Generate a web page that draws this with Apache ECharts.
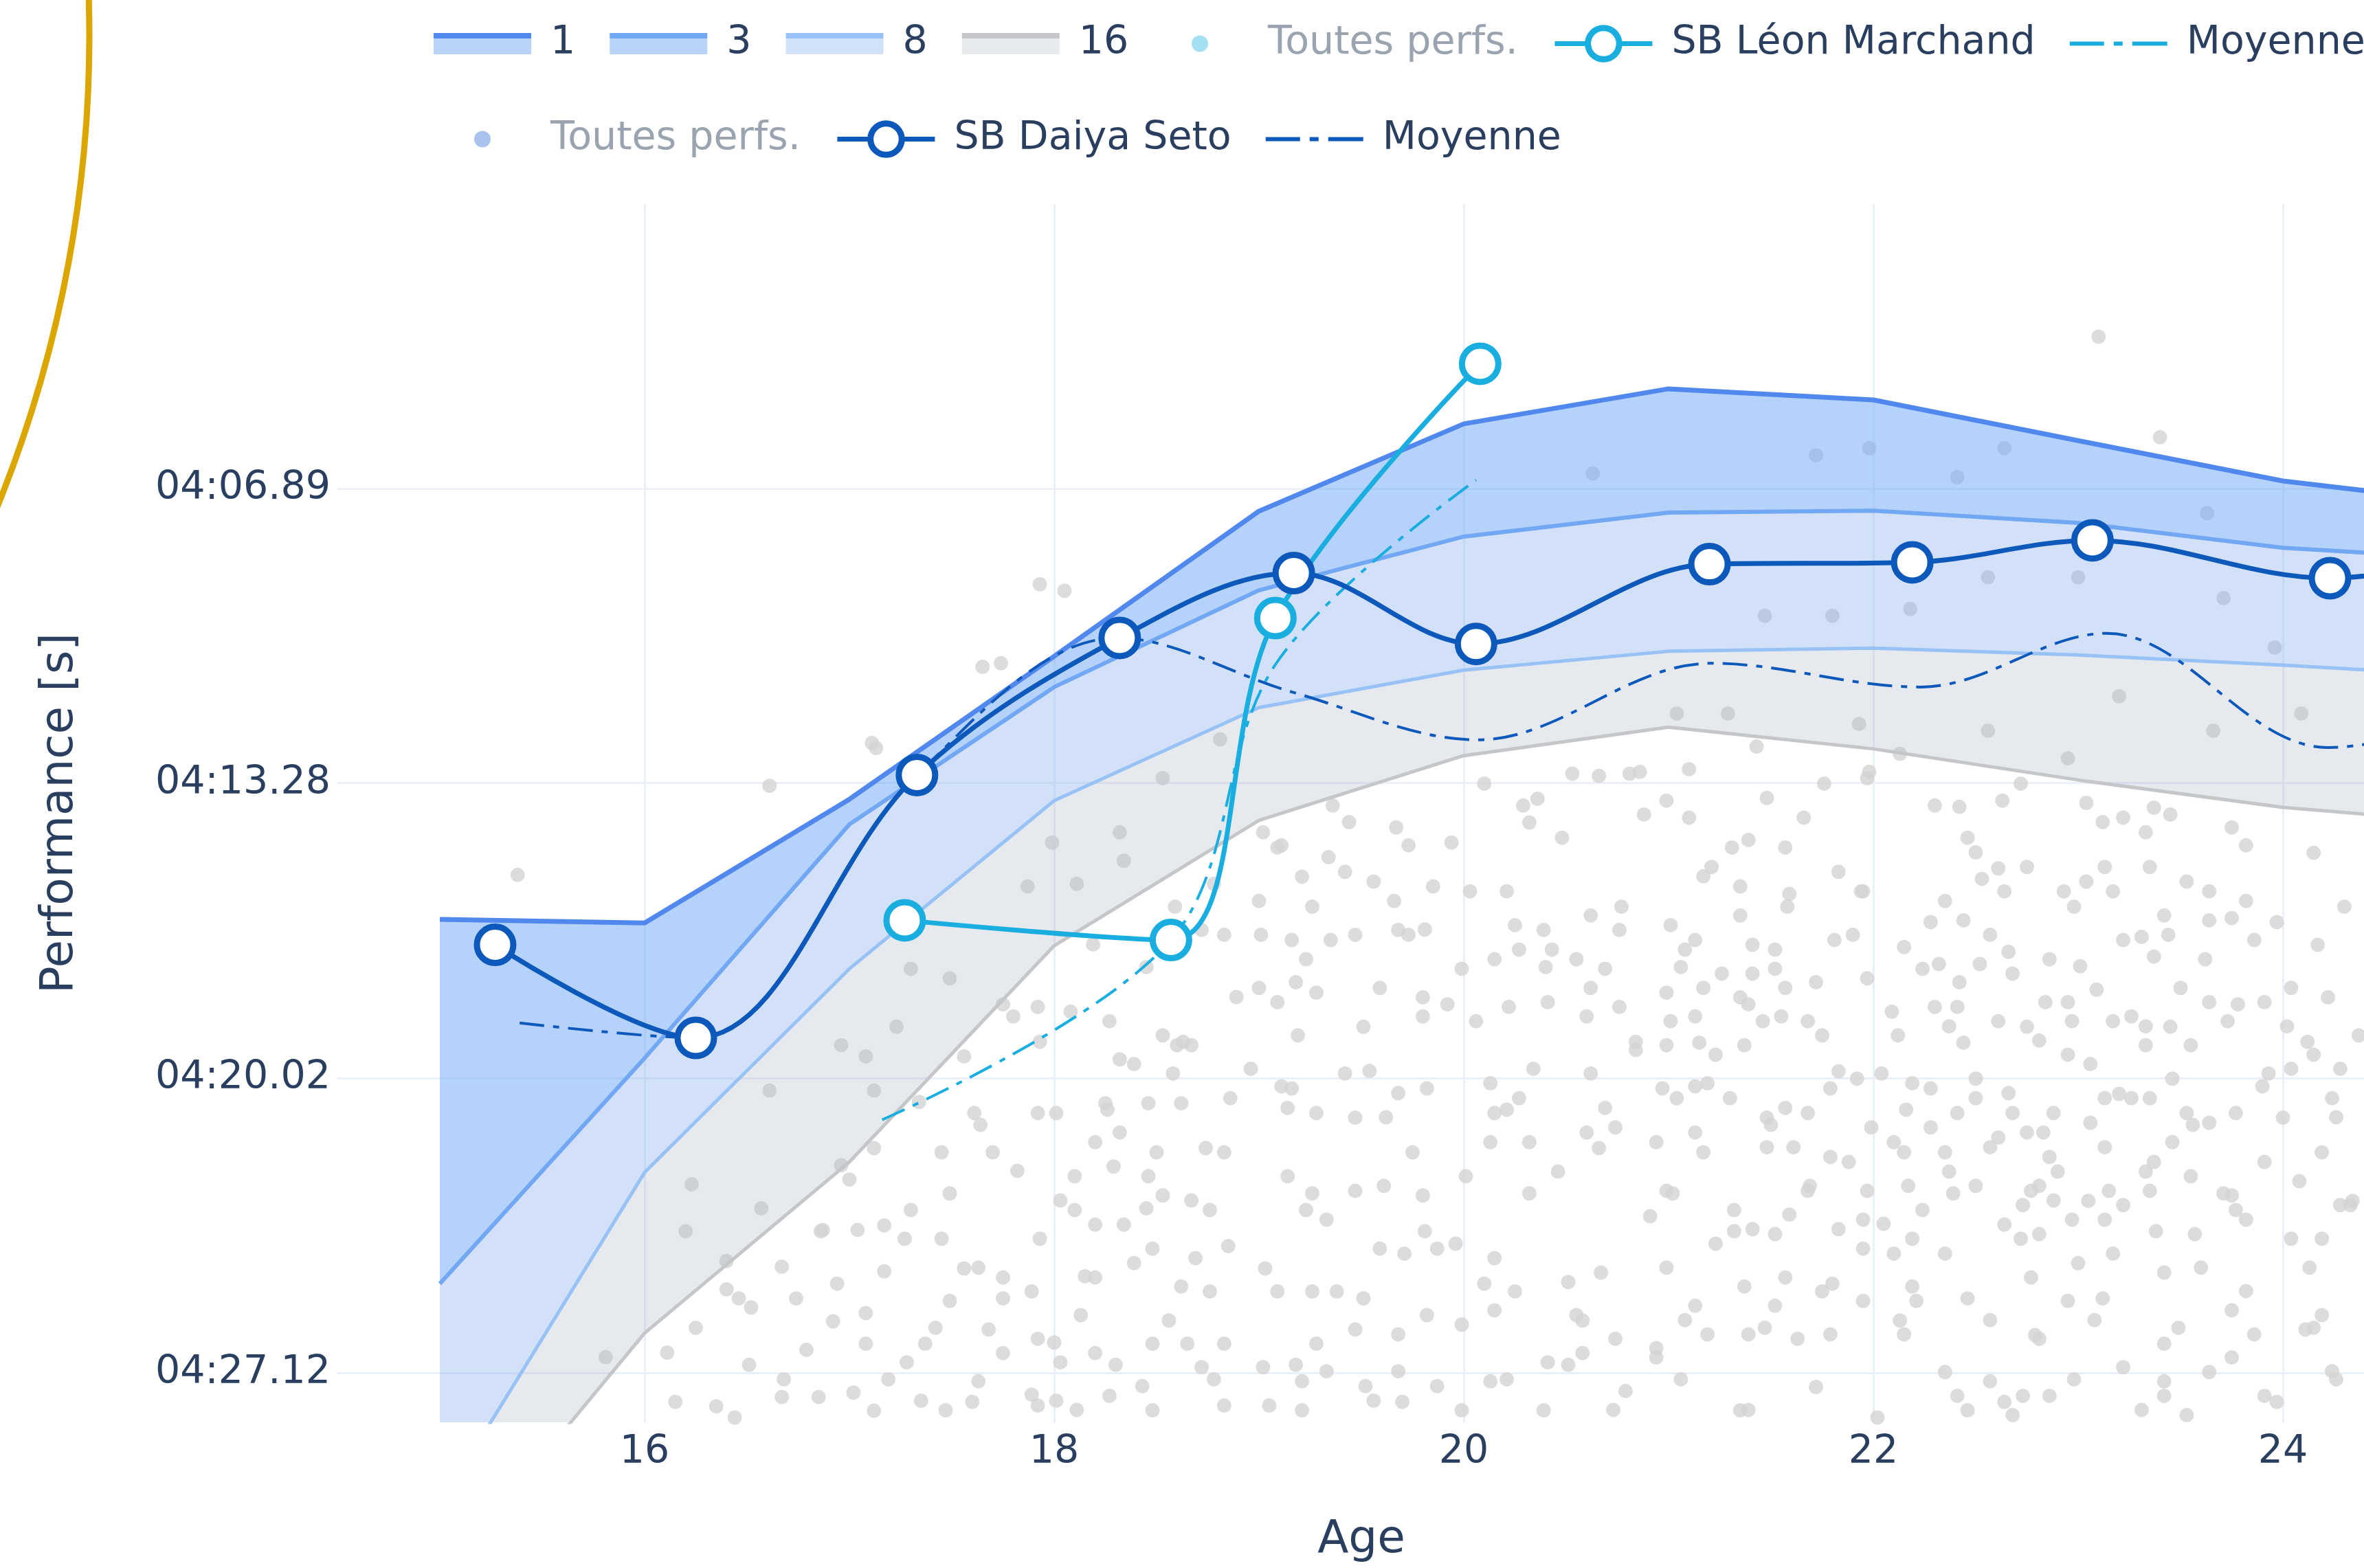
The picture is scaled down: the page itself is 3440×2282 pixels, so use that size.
<!DOCTYPE html>
<html>
<head>
<meta charset="utf-8">
<title>400 4N – Léon Marchand / Daiya Seto</title>
<script src="https://cdn.jsdelivr.net/npm/echarts@6/dist/echarts.min.js"></script>
<style>
  html, body { margin: 0; padding: 0; background: #ffffff; }
  #chart { width: 3440px; height: 2282px; }
</style>
</head>
<body>
<div id="chart"></div>
<script>
// 400 m individual medley: times in seconds, plotted on a speed scale (m/s)
const DIST = 400;

// Ranking envelopes by age (time of the 1st, 3rd, 8th and 16th best swimmer)
const AGES   = [15, 16, 17, 18, 19, 20, 21, 22, 23, 24, 25];
const RANK1  = [256.35, 256.43, 253.64, 250.49, 247.37, 245.53, 244.80, 245.03, 245.88, 246.73, 247.24];
const RANK3  = [264.93, 259.55, 254.20, 251.16, 249.06, 247.91, 247.40, 247.36, 247.62, 248.15, 248.41];
const RANK8  = [270.43, 262.25, 257.48, 253.67, 251.61, 250.79, 250.38, 250.31, 250.46, 250.68, 250.94];
const RANK16 = [272.36, 266.14, 262.00, 256.95, 254.11, 252.67, 252.04, 252.52, 253.21, 253.82, 254.20];

// Season bests
const MARCHAND_AGES = [17.27, 18.57, 19.08, 20.08];
const MARCHAND_SB   = [256.37, 256.82, 249.66, 244.28];
const SETO_AGES = [15.27, 16.25, 17.33, 18.32, 19.17, 20.06, 21.20, 22.19, 23.07, 24.23, 25.24];
const SETO_SB   = [256.93, 259.08, 253.10, 250.09, 248.69, 250.22, 248.50, 248.46, 247.99, 248.80, 247.95];

// Season averages
const MARCHAND_AVG_AGES = [17.16, 18.57, 19.08, 20.06];
const MARCHAND_AVG      = [261.00, 256.82, 250.67, 246.71];
const SETO_AVG_AGES = [15.39, 16.25, 17.33, 18.31, 19.17, 20.07, 21.21, 22.23, 23.14, 24.22, 25.20];
const SETO_AVG      = [258.73, 259.08, 253.10, 250.09, 251.28, 252.32, 250.64, 251.16, 249.99, 252.49, 251.50];

// Axis ticks
const AGE_TICKS  = [16, 18, 20, 22, 24];
const TIME_TICKS = [246.89, 253.28, 260.02, 267.12];

// All performances of the field: [age, time in s]
const ALL_PERFS = [
  [19.36,253.78],[19.67,254.27],[19.94,254.61],[20.48,254.50],[20.29,253.78],[20.32,254.16],[20.53,253.07],[20.81,253.07],
  [19.02,254.38],[19.09,254.72],[19.21,255.38],[19.34,254.94],[19.42,255.27],[19.56,255.49],[19.66,255.93],[19.85,255.60],
  [20.03,255.71],[20.25,256.48],[20.39,256.59],[20.62,256.26],[20.76,256.59],[19.00,255.93],[19.01,256.70],[19.16,256.82],
  [19.23,257.26],[19.35,256.82],[19.47,256.70],[19.68,256.59],[19.73,256.70],[19.99,257.48],[20.15,257.26],[20.27,257.04],
  [20.43,257.04],[20.55,257.26],[20.69,257.48],[20.62,257.92],[20.76,258.36],[18.72,256.59],[18.83,256.70],[19.00,257.92],
  [19.09,258.25],[19.28,258.03],[19.19,259.02],[19.59,257.92],[19.80,258.14],[19.80,258.58],[20.06,258.69],[20.22,258.36],
  [20.41,258.25],[20.60,258.58],[20.84,259.36],[17.80,258.58],[17.92,258.36],[18.27,258.69],[18.39,259.69],[18.32,259.58],
  [18.53,259.02],[18.60,259.25],[18.67,259.25],[18.58,259.91],[18.96,259.80],[19.42,259.91],[19.54,259.85],[19.16,260.26],
  [19.14,260.72],[18.86,260.49],[18.62,260.61],[18.46,260.61],[18.25,260.61],[18.01,260.84],[17.92,260.84],[17.61,260.84],
  [17.45,261.77],[17.70,261.77],[18.20,261.53],[18.32,261.30],[18.50,261.77],[18.83,261.77],[19.28,260.84],[19.47,260.95],
  [19.68,260.37],[19.82,260.26],[19.75,261.77],[20.13,260.14],[20.15,260.84],[20.27,260.49],[20.34,259.80],[20.62,259.91],
  [20.69,260.72],[20.60,261.30],[20.74,261.18],[20.46,262.23],[20.32,261.53],[20.01,262.34],[20.13,261.53],[19.80,262.80],
  [19.61,262.57],[19.47,262.69],[19.23,263.15],[19.33,263.38],[19.14,262.34],[18.76,263.15],[18.67,262.92],[18.53,262.80],
  [18.46,262.34],[18.29,262.11],[18.10,262.34],[18.03,262.92],[18.10,263.15],[18.20,263.50],[18.34,263.50],[18.48,264.08],
  [18.69,264.31],[18.62,265.00],[18.76,265.12],[18.39,264.43],[18.20,264.78],[18.13,265.70],[17.89,265.12],[17.75,264.78],
  [17.63,264.54],[17.49,265.35],[17.45,263.84],[17.30,263.15],[17.37,266.40],[17.28,266.86],[17.68,266.05],[17.75,266.63],
  [17.92,266.28],[18.03,266.86],[18.20,266.63],[18.48,266.40],[18.65,266.40],[18.83,266.40],[19.09,265.12],[19.26,265.12],
  [19.38,265.12],[19.47,266.05],[19.52,267.45],[19.28,266.40],[19.33,267.08],[19.21,267.33],[19.02,266.98],[18.72,266.98],
  [18.43,267.45],[18.27,267.69],[18.01,267.81],[17.92,267.93],[17.63,267.33],[17.47,268.05],[17.35,267.81],[19.59,264.08],
  [19.71,264.20],[19.87,264.08],[19.96,263.96],[20.15,264.31],[20.25,265.12],[20.51,264.89],[20.67,264.66],[20.55,265.70],
  [20.74,266.28],[20.15,265.58],[19.99,265.93],[19.82,265.70],[19.68,266.17],[20.41,266.86],[20.58,266.63],[20.79,267.57],
  [20.13,267.33],[19.87,267.45],[19.68,267.08],[19.56,267.81],[19.05,267.93],[18.83,267.93],[18.48,268.05],[19.21,268.05],
  [19.99,268.05],[20.39,268.05],[17.99,254.61],[18.32,254.38],[17.87,255.60],[17.49,257.70],[17.30,257.48],[18.53,253.17],
  [18.81,252.31],
  [20.99,253.67],[21.10,254.05],[21.48,253.61],[21.66,254.05],[21.97,253.17],[22.30,253.78],[22.63,253.67],[23.04,253.72],
  [23.22,254.05],[23.33,254.38],[23.75,254.27],[23.37,253.83],[21.21,255.16],[21.31,254.72],[21.39,254.55],[21.57,254.72],
  [21.83,255.27],[21.95,255.71],[21.35,255.60],[21.59,255.77],[22.46,254.50],[22.50,254.83],[22.75,255.16],[22.35,255.93],
  [22.53,255.43],[22.64,255.71],[22.93,255.71],[23.04,255.49],[23.13,255.16],[23.17,255.71],[23.35,255.16],[23.53,255.49],
  [23.82,255.93],[23.64,256.37],[23.75,256.32],[21.01,256.48],[21.08,257.04],[21.13,256.82],[21.35,256.26],[21.41,256.93],
  [21.52,257.04],[21.52,257.48],[21.81,256.82],[21.90,256.70],[21.97,257.70],[22.15,256.98],[22.24,257.48],[22.32,257.37],
  [22.44,256.37],[22.57,256.70],[22.52,257.37],[22.66,257.09],[22.68,257.59],[22.86,257.26],[23.01,257.42],[23.22,256.82],
  [23.42,256.26],[23.44,256.70],[23.37,257.20],[23.50,257.92],[23.62,257.26],[24.17,256.93],[23.86,256.82],[20.99,258.03],
  [21.17,257.92],[21.26,257.59],[21.35,258.14],[21.41,257.59],[21.57,257.92],[21.01,258.69],[21.13,258.58],[21.46,258.69],
  [21.55,258.58],[21.68,258.69],[21.75,259.02],[21.37,259.25],[21.23,259.47],[20.99,259.25],[21.15,259.19],[22.12,259.02],
  [22.30,258.36],[22.41,258.36],[22.37,258.81],[22.44,259.19],[22.61,258.69],[22.84,258.25],[22.95,258.25],[22.97,258.69],
  [22.81,259.14],[22.95,259.47],[23.06,259.69],[23.17,258.69],[23.26,258.58],[23.33,258.81],[23.33,259.25],[23.55,259.25],
  [23.64,258.25],[23.73,258.69],[23.91,258.25],[24.04,257.92],[24.02,258.81],[24.22,258.14],[24.15,259.47],[24.28,259.80],
  [24.37,259.02],[20.97,260.26],[21.04,260.49],[21.19,260.14],[21.30,260.49],[21.48,260.95],[21.57,260.72],[21.68,260.84],
  [21.79,260.26],[21.92,260.03],[22.04,259.91],[22.19,260.14],[22.28,260.26],[22.41,260.84],[22.50,260.49],[22.66,260.37],
  [22.68,260.84],[22.88,260.84],[23.13,260.49],[23.26,260.49],[23.35,260.49],[23.46,260.03],[23.53,260.84],[23.64,261.07],
  [23.77,260.84],[24.00,260.95],[23.93,259.91],[24.04,259.80],[24.24,260.49],[23.06,261.07],[20.94,261.53],[21.13,261.30],
  [21.17,261.77],[21.48,261.65],[21.61,261.65],[21.79,261.88],[21.88,262.00],[21.97,262.69],[21.99,261.18],[22.10,261.53],
  [22.15,261.77],[22.28,261.18],[22.35,261.77],[22.37,262.23],[22.57,261.65],[22.61,261.42],[22.75,261.30],[22.86,261.88],
  [22.90,262.23],[22.81,262.57],[23.13,261.65],[23.15,262.69],[23.33,262.23],[23.37,262.00],[23.46,261.53],[23.55,262.34],
  [23.75,262.80],[23.91,262.00],[24.08,262.46],[24.19,261.77],[24.28,263.03],[21.68,262.69],[20.99,262.69],[22.17,262.57],
  [22.50,262.57],[22.77,262.69],[21.32,263.15],[21.23,263.96],[21.41,263.61],[21.59,263.26],[21.52,263.73],[21.83,263.61],
  [21.95,263.38],[21.95,264.08],[22.10,264.20],[22.19,263.84],[22.24,263.15],[22.35,264.20],[22.64,263.50],[22.73,263.03],
  [22.81,263.73],[22.88,262.92],[22.97,263.38],[23.13,263.38],[23.22,263.03],[23.35,262.69],[23.57,263.73],[23.77,263.15],
  [23.82,263.38],[23.60,264.54],[23.42,264.66],[23.17,264.20],[23.00,264.43],[22.77,264.78],[24.19,263.84],[24.13,264.54],
  [24.33,263.03],[20.99,264.54],[21.37,265.00],[21.57,264.78],[21.52,265.47],[21.75,265.12],[21.95,265.35],[22.19,265.00],
  [22.21,265.35],[22.15,266.17],[22.57,265.82],[22.81,266.28],[22.95,265.35],[23.08,265.82],[23.42,266.40],[23.75,265.58],
  [23.86,266.17],[24.11,266.05],[24.19,265.70],[21.08,265.82],[21.19,266.17],[21.39,266.17],[21.63,266.28],[21.79,266.17],
  [20.94,266.51],[20.94,266.74],[23.22,266.98],[23.75,266.74],[23.42,267.33],[24.24,267.08],[22.57,267.33],[22.41,267.69],
  [22.73,267.69],[22.86,267.69],[23.42,267.69],[23.91,267.69],[21.35,268.05],[22.46,268.05],[22.68,268.17],[23.53,268.17],
  [16.96,262.08],[17.00,262.42],[17.17,263.52],[17.04,263.63],[16.87,263.63],[16.67,264.52],[16.46,265.29],[16.40,265.07],
  [16.52,265.51],[16.92,265.85],[17.08,266.40],[17.17,264.63],[17.02,267.61],[16.85,267.72],[16.67,267.72],[16.35,267.95],
  [16.11,266.62],[17.12,268.06],[16.96,259.25],[17.12,260.31],[16.61,260.31],[16.23,262.53],[15.81,266.73],[15.38,255.34],
  [17.11,252.39],[16.61,253.34],
  [23.10,243.72],[20.63,246.57],[21.72,246.19],[21.98,246.04],[22.64,246.04],[23.40,245.81],[23.63,247.41],[22.41,246.65],
  [21.47,249.61],[21.80,249.61],[22.18,249.46],[22.56,248.78],[23.00,248.78],[23.71,249.23],[23.96,250.30],[23.20,251.36],
  [21.04,251.74],[21.29,251.74],[21.93,251.97],[22.56,252.12],[22.95,252.73],[23.66,252.12],[24.09,251.74],[20.86,253.03],
  [21.98,253.03],[17.93,248.93],[18.05,249.07],[17.65,250.72],[17.74,250.64],[17.13,252.50],
  [16.20,263.66],[16.40,264.38],[16.57,263.11],[16.74,265.29],[16.86,263.66],[16.25,266.01],[16.51,266.92],[16.79,266.55],
  [16.94,264.93],[16.15,267.84],[16.44,268.23],[16.68,267.28],
  [17.08,259.51],[17.23,258.82],[17.56,259.51],[17.75,258.30],[17.93,259.17],[17.34,260.58],[17.64,261.12],[17.12,261.67],
  [17.49,262.75],[17.82,262.21],[17.27,263.84],[17.56,264.56],[17.93,263.84],[17.08,265.65],[17.42,266.01],[17.75,265.29],
  [18.00,266.37],[17.19,267.28],[17.60,267.84],[17.89,267.66],
  [18.11,255.54],[18.34,255.02],[18.59,256.06],[18.78,255.54],[18.19,256.92],[18.45,257.44],[18.89,258.13],[18.08,258.47],
  [18.63,259.17],[18.26,260.76],[18.74,261.67],[18.45,263.11],[18.15,264.75],[18.85,264.02],[18.56,265.83],[18.30,266.92],
  [18.78,267.28],[18.11,268.04],
  [19.11,254.67],[19.44,254.15],[19.73,254.67],[20.10,253.29],[20.36,253.63],[20.66,253.12],[20.88,253.98],[19.26,256.06],
  [19.81,256.58],[20.21,255.71],[20.77,256.06],[19.18,257.79],[19.51,258.82],[19.92,258.30],[20.40,257.44],[20.84,259.17],
  [19.11,260.21],[19.62,260.94],[20.21,260.76],[20.66,261.67],[19.26,262.75],[19.81,263.66],[20.32,262.75],[20.91,263.30],
  [19.03,264.56],[19.51,265.29],[20.10,264.93],[20.58,265.83],[19.18,266.92],[19.70,267.84],[20.21,267.28],[20.73,268.04],
  [20.51,266.92],
  [21.10,252.97],[21.43,252.47],[21.76,253.29],[22.13,252.63],[22.42,253.81],[22.72,253.29],[23.12,254.15],[23.45,253.98],
  [23.82,254.67],[24.15,254.84],[21.17,255.37],[21.58,256.06],[21.94,255.71],[22.28,256.41],[22.61,255.19],[22.98,256.06],
  [23.31,256.75],[23.64,255.71],[23.97,256.41],[24.30,256.06],[21.06,257.44],[21.39,258.30],[21.72,257.79],[22.09,258.47],
  [22.42,257.79],[22.75,258.82],[23.09,257.96],[23.45,258.82],[23.78,258.30],[24.12,259.17],[21.13,260.21],[21.50,261.12],
  [21.83,259.86],[22.16,260.76],[22.50,260.03],[22.83,261.30],[23.20,260.39],[23.56,261.12],[23.90,260.21],[24.26,260.94],
  [21.02,262.75],[21.32,263.66],[21.69,262.57],[22.05,263.48],[22.39,262.75],[22.72,263.84],[23.05,262.93],[23.38,263.66],
  [23.71,262.75],[24.04,263.84],[24.34,262.93],[21.13,265.47],[21.47,266.01],[21.80,264.93],[22.13,265.83],[22.46,265.29],
  [22.79,266.19],[23.12,265.29],[23.49,266.01],[23.82,265.11],[24.15,266.01],[21.06,267.28],[21.39,268.04],[21.72,267.47],
  [22.02,268.23],[22.35,267.10],[22.64,267.84],[22.98,267.28],[23.31,268.04],[23.64,267.10],[23.97,267.84],[24.26,267.28]
];

// ---- styling ----
const FONT = 'DejaVu Sans';
const INK = '#2a3f5f';
const FADED = '#9aa3b0';
const LEON = '#1aaee0';
const SETO = '#0c58bb';
const BAND_LINE = ['#5088ee', '#72a8f3', '#98c2f5', '#c4c6ca'];
const BAND_FILL = ['rgba(108,165,245,0.50)', 'rgba(129,172,232,0.36)', 'rgba(172,182,198,0.30)'];
const BAND_ICON_FILL = ['#b7d3fa', '#b7d3fa', '#d1e1f7', '#e6e9ee'];

// shaded areas between consecutive ranking envelopes
const BANDS = [
  { upper: RANK1, lower: RANK3, fill: BAND_FILL[0] },
  { upper: RANK3, lower: RANK8, fill: BAND_FILL[1] },
  { upper: RANK8, lower: RANK16, fill: BAND_FILL[2] }
];

const speed = t => DIST / t;
const pts = (ages, times) => ages.map((a, i) => [a, speed(times[i])]);

function fmtTime(t) {
  const m = Math.floor(t / 60);
  const s = t - 60 * m;
  return String(m).padStart(2, '0') + ':' + s.toFixed(2).padStart(5, '0');
}

function bandIcon(line, fill) {
  return {
    color: {
      type: 'linear', x: 0, y: 0, x2: 0, y2: 1,
      colorStops: [
        { offset: 0, color: line }, { offset: 0.26, color: line },
        { offset: 0.26, color: fill }, { offset: 1, color: fill }
      ]
    },
    borderWidth: 0
  };
}

function renderBand(params, api) {
  const band = BANDS[params.dataIndex];
  const top = AGES.map((a, i) => api.coord([a, speed(band.upper[i])]));
  const bottom = AGES.map((a, i) => api.coord([a, speed(band.lower[i])])).reverse();
  const cs = params.coordSys;
  return {
    type: 'polygon',
    shape: { points: top.concat(bottom) },
    style: { fill: band.fill },
    clipPath: { type: 'rect', shape: { x: cs.x, y: cs.y, width: cs.width, height: cs.height } }
  };
}

function bandLine(name, times, color, width) {
  return {
    name, type: 'line', z: 3, silent: true,
    data: pts(AGES, times), symbol: 'none', showSymbol: false,
    lineStyle: { color, width }
  };
}

// legend glyphs laid out in a 142 x 57 box
const DOT_ICON = 'path://M0,0L0,0M142,57L142,57M59,28.5a12,12 0 1,0 24,0a12,12 0 1,0 -24,0z';
const DASHDOT_ICON = 'path://M0,0L0,0M142,57L142,57M0,25.5h50v6h-50zM64,25.5h13v6h-13zM91,25.5h51v6h-51z';

const legendText = { fontFamily: FONT, fontSize: 57, color: INK, padding: [0, 0, 0, 23] };

const option = {
  animation: false,
  backgroundColor: '#ffffff',
  textStyle: { fontFamily: FONT },
  grid: { left: 491, top: 297, width: 2980, height: 1773, outerBoundsMode: 'none', containLabel: false },
  graphic: [{
    type: 'circle', silent: true,
    shape: { cx: -1691, cy: 52, r: 1821 },
    style: { fill: 'none', stroke: '#dca600', lineWidth: 9 }
  }],
  legend: [
    {
      left: 631, top: 35, padding: 0, orient: 'horizontal',
      itemWidth: 142, itemHeight: 31, itemGap: 50, selectedMode: false,
      textStyle: legendText,
      data: [
        { name: '1', icon: 'rect', itemStyle: bandIcon(BAND_LINE[0], BAND_ICON_FILL[0]) },
        { name: '3', icon: 'rect', itemStyle: bandIcon(BAND_LINE[1], BAND_ICON_FILL[1]) },
        { name: '8', icon: 'rect', itemStyle: bandIcon(BAND_LINE[2], BAND_ICON_FILL[2]) },
        { name: '16', icon: 'rect', itemStyle: bandIcon(BAND_LINE[3], BAND_ICON_FILL[3]) }
      ]
    },
    {
      left: 1675, top: 35, padding: 0, orient: 'horizontal', width: 3000,
      itemWidth: 142, itemHeight: 57, itemGap: 50, selectedMode: false,
      textStyle: legendText,
      data: [
        { name: 'Toutes perfs.', icon: DOT_ICON, itemStyle: { color: '#8fd7ef', borderWidth: 0 }, textStyle: { color: FADED } },
        { name: 'SB Léon Marchand', itemStyle: { color: '#ffffff', borderColor: LEON, borderWidth: 9 }, lineStyle: { color: LEON, width: 7 } },
        { name: 'Moyenne', icon: DASHDOT_ICON, itemStyle: { color: LEON, borderWidth: 0 } }
      ]
    },
    {
      left: 631, top: 174, padding: 0, orient: 'horizontal', width: 3000,
      itemWidth: 142, itemHeight: 57, itemGap: 50, selectedMode: false,
      textStyle: legendText,
      data: [
        { name: 'Toutes perfs.', icon: DOT_ICON, itemStyle: { color: '#94b4e8', borderWidth: 0 }, textStyle: { color: FADED } },
        { name: 'SB Daiya Seto', itemStyle: { color: '#ffffff', borderColor: SETO, borderWidth: 9 }, lineStyle: { color: SETO, width: 7 } },
        { name: 'Moyenne', icon: DASHDOT_ICON, itemStyle: { color: SETO, borderWidth: 0 } }
      ]
    }
  ],
  xAxis: {
    type: 'value', min: 14.5, max: 24.5,
    axisLine: { show: false },
    axisTick: { show: false, customValues: AGE_TICKS },
    axisLabel: { customValues: AGE_TICKS, fontSize: 57, color: INK, margin: 16, fontFamily: FONT },
    splitLine: { show: true, lineStyle: { color: '#ebf0f8', width: 3 } },
    name: 'Age', nameLocation: 'middle', nameGap: 139,
    nameTextStyle: { fontSize: 66, color: INK, fontFamily: FONT }
  },
  yAxis: {
    type: 'value', min: 1.490589, max: 1.659625,
    axisLine: { show: false },
    axisTick: { show: false, customValues: TIME_TICKS.map(speed) },
    axisLabel: {
      customValues: TIME_TICKS.map(speed), fontSize: 57, color: INK, margin: 10, fontFamily: FONT,
      formatter: v => fmtTime(DIST / v)
    },
    splitLine: { show: true, lineStyle: { color: '#ebf0f8', width: 3 } },
    name: 'Performance [s]', nameLocation: 'middle', nameGap: 370, nameRotate: 90,
    nameTextStyle: { fontSize: 66, color: INK, fontFamily: FONT }
  },
  series: [
    {
      name: 'all', type: 'scatter', silent: true, z: 1,
      data: ALL_PERFS.map(p => [p[0], speed(p[1])]),
      symbolSize: 21, itemStyle: { color: '#d3d3d3' }
    },
    {
      name: 'bands', type: 'custom', z: 2, silent: true,
      data: BANDS.map((b, i) => [i]),
      renderItem: renderBand
    },
    bandLine('16', RANK16, BAND_LINE[3], 5),
    bandLine('8', RANK8, BAND_LINE[2], 5),
    bandLine('3', RANK3, BAND_LINE[1], 6),
    bandLine('1', RANK1, BAND_LINE[0], 7),
    {
      name: 'Toutes perfs.', type: 'scatter', data: [], itemStyle: { color: '#8fd7ef' }
    },
    {
      name: 'Moyenne', type: 'line', z: 4, smooth: 0.35, symbol: 'none', silent: true,
      data: pts(MARCHAND_AVG_AGES, MARCHAND_AVG),
      lineStyle: { color: LEON, width: 4, type: [36, 13, 9, 13] }
    },
    {
      name: 'Moyenne', type: 'line', z: 4, smooth: 0.35, symbol: 'none', silent: true,
      data: pts(SETO_AVG_AGES, SETO_AVG),
      lineStyle: { color: SETO, width: 4, type: [36, 13, 9, 13] }
    },
    {
      name: 'SB Léon Marchand', type: 'line', z: 5, smooth: 0.35,
      data: pts(MARCHAND_AGES, MARCHAND_SB),
      symbol: 'circle', symbolSize: 53, showSymbol: true,
      itemStyle: { color: '#ffffff', borderColor: LEON, borderWidth: 9 },
      lineStyle: { color: LEON, width: 7 }
    },
    {
      name: 'SB Daiya Seto', type: 'line', z: 6, smooth: 0.35,
      data: pts(SETO_AGES, SETO_SB),
      symbol: 'circle', symbolSize: 53, showSymbol: true,
      itemStyle: { color: '#ffffff', borderColor: SETO, borderWidth: 9 },
      lineStyle: { color: SETO, width: 7 }
    }
  ]
};

const chart = echarts.init(document.getElementById('chart'), null, { renderer: 'canvas' });
chart.setOption(option);
</script>
</body>
</html>
